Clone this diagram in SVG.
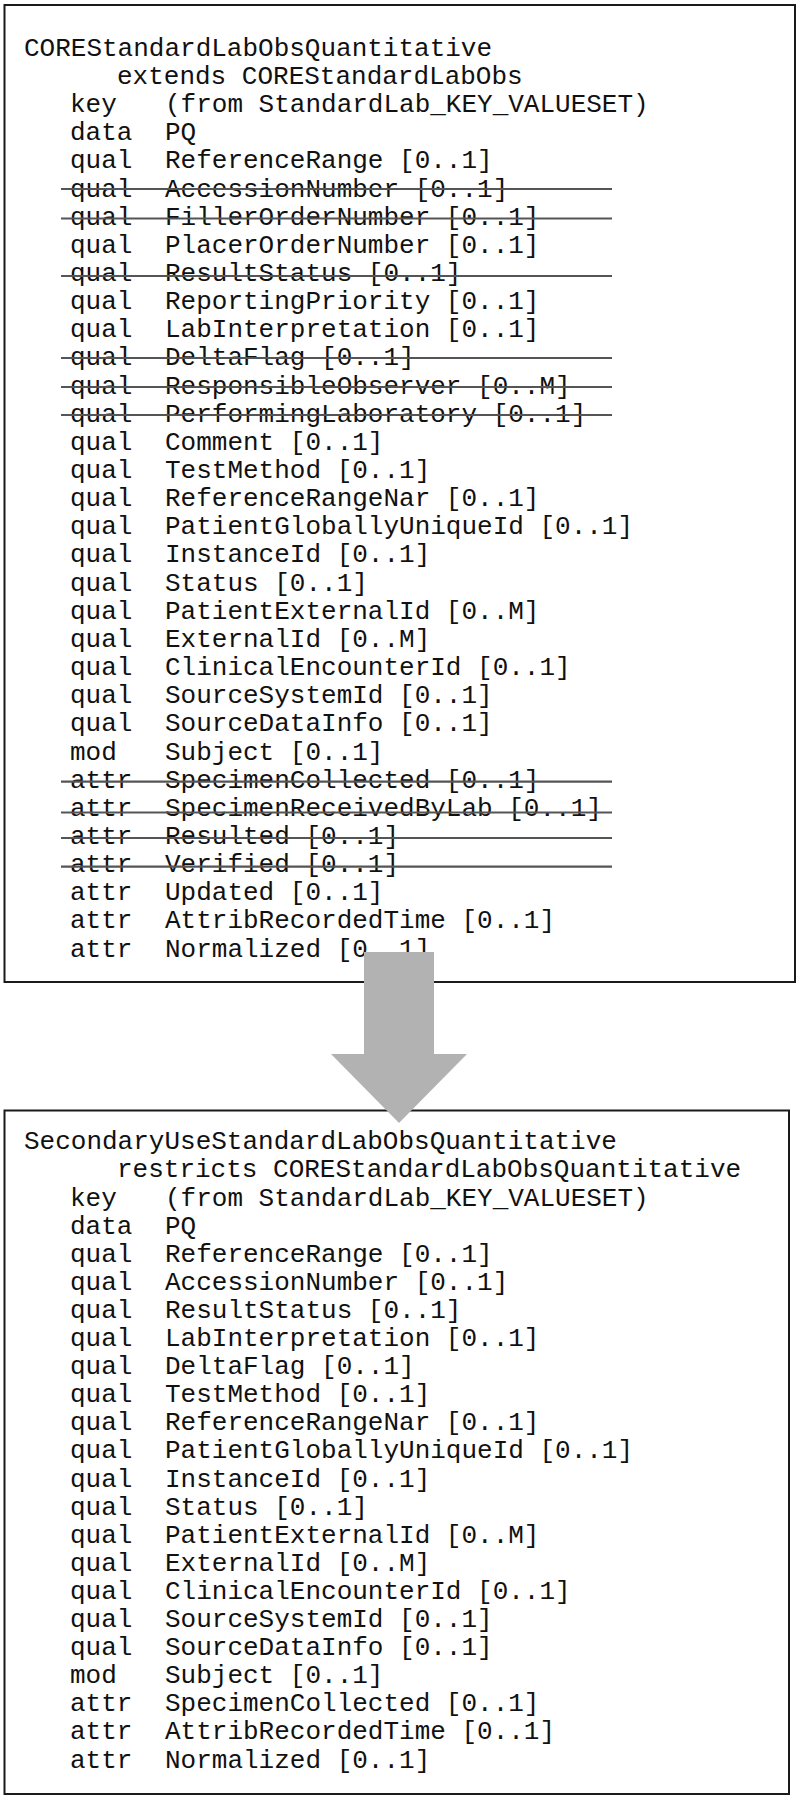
<svg xmlns="http://www.w3.org/2000/svg" width="800" height="1800" viewBox="0 0 800 1800">
<style>
.box{fill:#fff;stroke:#1a1a1a;stroke-width:2}
text{font-family:"Liberation Mono","Courier New",monospace;font-size:26px;fill:#111}
.strike{stroke:#555;stroke-width:2.2}
.arrow{fill:#b2b2b2}
</style>
<rect width="800" height="1800" fill="#fff"/>
<g id="core">
<rect class="box" x="4.5" y="5" width="790.5" height="977"/>
<text x="24" y="55.7">COREStandardLabObsQuantitative</text>
<text x="117" y="83.9">extends COREStandardLabObs</text>
<text y="112.0"><tspan x="70">key</tspan><tspan x="165">(from StandardLab_KEY_VALUESET)</tspan></text>
<text y="140.2"><tspan x="70">data</tspan><tspan x="165">PQ</tspan></text>
<text y="168.3"><tspan x="70">qual</tspan><tspan x="165">ReferenceRange [0..1]</tspan></text>
<text y="196.5"><tspan x="70">qual</tspan><tspan x="165">AccessionNumber [0..1]</tspan></text>
<text y="224.6"><tspan x="70">qual</tspan><tspan x="165">FillerOrderNumber [0..1]</tspan></text>
<text y="252.8"><tspan x="70">qual</tspan><tspan x="165">PlacerOrderNumber [0..1]</tspan></text>
<text y="280.9"><tspan x="70">qual</tspan><tspan x="165">ResultStatus [0..1]</tspan></text>
<text y="309.1"><tspan x="70">qual</tspan><tspan x="165">ReportingPriority [0..1]</tspan></text>
<text y="337.2"><tspan x="70">qual</tspan><tspan x="165">LabInterpretation [0..1]</tspan></text>
<text y="365.4"><tspan x="70">qual</tspan><tspan x="165">DeltaFlag [0..1]</tspan></text>
<text y="393.5"><tspan x="70">qual</tspan><tspan x="165">ResponsibleObserver [0..M]</tspan></text>
<text y="421.7"><tspan x="70">qual</tspan><tspan x="165">PerformingLaboratory [0..1]</tspan></text>
<text y="449.8"><tspan x="70">qual</tspan><tspan x="165">Comment [0..1]</tspan></text>
<text y="478.0"><tspan x="70">qual</tspan><tspan x="165">TestMethod [0..1]</tspan></text>
<text y="506.1"><tspan x="70">qual</tspan><tspan x="165">ReferenceRangeNar [0..1]</tspan></text>
<text y="534.3"><tspan x="70">qual</tspan><tspan x="165">PatientGloballyUniqueId [0..1]</tspan></text>
<text y="562.4"><tspan x="70">qual</tspan><tspan x="165">InstanceId [0..1]</tspan></text>
<text y="590.6"><tspan x="70">qual</tspan><tspan x="165">Status [0..1]</tspan></text>
<text y="618.7"><tspan x="70">qual</tspan><tspan x="165">PatientExternalId [0..M]</tspan></text>
<text y="646.9"><tspan x="70">qual</tspan><tspan x="165">ExternalId [0..M]</tspan></text>
<text y="675.0"><tspan x="70">qual</tspan><tspan x="165">ClinicalEncounterId [0..1]</tspan></text>
<text y="703.2"><tspan x="70">qual</tspan><tspan x="165">SourceSystemId [0..1]</tspan></text>
<text y="731.3"><tspan x="70">qual</tspan><tspan x="165">SourceDataInfo [0..1]</tspan></text>
<text y="759.5"><tspan x="70">mod</tspan><tspan x="165">Subject [0..1]</tspan></text>
<text y="787.6"><tspan x="70">attr</tspan><tspan x="165">SpecimenCollected [0..1]</tspan></text>
<text y="815.8"><tspan x="70">attr</tspan><tspan x="165">SpecimenReceivedByLab [0..1]</tspan></text>
<text y="843.9"><tspan x="70">attr</tspan><tspan x="165">Resulted [0..1]</tspan></text>
<text y="872.1"><tspan x="70">attr</tspan><tspan x="165">Verified [0..1]</tspan></text>
<text y="900.2"><tspan x="70">attr</tspan><tspan x="165">Updated [0..1]</tspan></text>
<text y="928.4"><tspan x="70">attr</tspan><tspan x="165">AttribRecordedTime [0..1]</tspan></text>
<text y="956.5"><tspan x="70">attr</tspan><tspan x="165">Normalized [0..1]</tspan></text>
<g id="strikes">
<line class="strike" x1="61" y1="189" x2="612" y2="189"/>
<line class="strike" x1="61" y1="218.5" x2="612" y2="218.5"/>
<line class="strike" x1="61" y1="276" x2="612" y2="276"/>
<line class="strike" x1="61" y1="358" x2="612" y2="358"/>
<line class="strike" x1="61" y1="387" x2="612" y2="387"/>
<line class="strike" x1="61" y1="415" x2="612" y2="415"/>
<line class="strike" x1="61" y1="781.7" x2="612" y2="781.7"/>
<line class="strike" x1="61" y1="812.5" x2="612" y2="812.5"/>
<line class="strike" x1="61" y1="838" x2="612" y2="838"/>
<line class="strike" x1="61" y1="866.7" x2="612" y2="866.7"/>
</g>
</g>
<g id="secondary">
<rect class="box" x="4.5" y="1110.5" width="784.5" height="683.5"/>
<text x="24" y="1149.3">SecondaryUseStandardLabObsQuantitative</text>
<text x="117" y="1177.4">restricts COREStandardLabObsQuantitative</text>
<text y="1205.5"><tspan x="70">key</tspan><tspan x="165">(from StandardLab_KEY_VALUESET)</tspan></text>
<text y="1233.6"><tspan x="70">data</tspan><tspan x="165">PQ</tspan></text>
<text y="1261.7"><tspan x="70">qual</tspan><tspan x="165">ReferenceRange [0..1]</tspan></text>
<text y="1289.8"><tspan x="70">qual</tspan><tspan x="165">AccessionNumber [0..1]</tspan></text>
<text y="1317.9"><tspan x="70">qual</tspan><tspan x="165">ResultStatus [0..1]</tspan></text>
<text y="1346.0"><tspan x="70">qual</tspan><tspan x="165">LabInterpretation [0..1]</tspan></text>
<text y="1374.1"><tspan x="70">qual</tspan><tspan x="165">DeltaFlag [0..1]</tspan></text>
<text y="1402.2"><tspan x="70">qual</tspan><tspan x="165">TestMethod [0..1]</tspan></text>
<text y="1430.3"><tspan x="70">qual</tspan><tspan x="165">ReferenceRangeNar [0..1]</tspan></text>
<text y="1458.4"><tspan x="70">qual</tspan><tspan x="165">PatientGloballyUniqueId [0..1]</tspan></text>
<text y="1486.5"><tspan x="70">qual</tspan><tspan x="165">InstanceId [0..1]</tspan></text>
<text y="1514.6"><tspan x="70">qual</tspan><tspan x="165">Status [0..1]</tspan></text>
<text y="1542.7"><tspan x="70">qual</tspan><tspan x="165">PatientExternalId [0..M]</tspan></text>
<text y="1570.8"><tspan x="70">qual</tspan><tspan x="165">ExternalId [0..M]</tspan></text>
<text y="1598.9"><tspan x="70">qual</tspan><tspan x="165">ClinicalEncounterId [0..1]</tspan></text>
<text y="1627.0"><tspan x="70">qual</tspan><tspan x="165">SourceSystemId [0..1]</tspan></text>
<text y="1655.1"><tspan x="70">qual</tspan><tspan x="165">SourceDataInfo [0..1]</tspan></text>
<text y="1683.2"><tspan x="70">mod</tspan><tspan x="165">Subject [0..1]</tspan></text>
<text y="1711.3"><tspan x="70">attr</tspan><tspan x="165">SpecimenCollected [0..1]</tspan></text>
<text y="1739.4"><tspan x="70">attr</tspan><tspan x="165">AttribRecordedTime [0..1]</tspan></text>
<text y="1767.5"><tspan x="70">attr</tspan><tspan x="165">Normalized [0..1]</tspan></text>
</g>
<g id="connectors">
<polygon class="arrow" points="364,952 434,952 434,1054 467,1054 399,1123 331,1054 364,1054"/>
</g>
</svg>
